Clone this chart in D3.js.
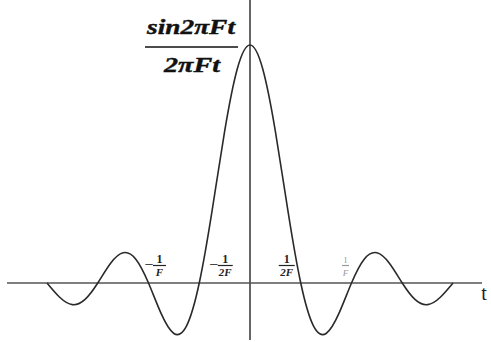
<!DOCTYPE html>
<html>
<head>
<meta charset="utf-8">
<script src="https://cdn.jsdelivr.net/npm/d3@7"></script>
<style>
  html, body { margin: 0; padding: 0; background: #fff; }
  svg { display: block; }
</style>
</head>
<body>
<svg id="chart" width="491" height="342"></svg>
<script>
// Time, in units of 1/(2F), and the curve values
const tValues = [-4, -3.75, -3.5, -3.25, -3, -2.75, -2.5, -2.25, -2, -1.75, -1.5, -1.25, -1,
  -0.75, -0.5, -0.25, 0, 0.25, 0.5, 0.75, 1, 1.25, 1.5, 1.75, 2, 2.25, 2.5, 2.75, 3, 3.25, 3.5, 3.75, 4];
const curveValues = [0, -0.060, -0.091, -0.069, 0, 0.082, 0.127, 0.100, 0, -0.129, -0.212, -0.180, 0,
  0.300, 0.637, 0.900, 1, 0.900, 0.637, 0.300, 0, -0.180, -0.212, -0.129, 0, 0.100, 0.127, 0.082, 0, -0.069, -0.091, -0.060, 0];

// Tick labels on the time axis
const tickAt = [-2, -1, 1, 2];
const tickSign = ["\u2212", "\u2212", "", ""];
const tickNum = ["1", "1", "1", "1"];
const tickDen = ["F", "2F", "2F", "F"];

const titleNum = "sin2\u03C0Ft";
const titleDen = "2\u03C0Ft";
const axisLabel = "t";

const svg = d3.select("#chart");
const x = d3.scaleLinear().domain([-4, 4]).range([47, 453]);
const y = d3.scaleLinear().domain([0, 1]).range([283, 45]);

// axes
svg.append("line").attr("x1", 7).attr("x2", 482).attr("y1", y(0)).attr("y2", y(0))
  .attr("stroke", "#555").attr("stroke-width", 1.6);
svg.append("line").attr("x1", x(0)).attr("x2", x(0)).attr("y1", 0).attr("y2", 340)
  .attr("stroke", "#555").attr("stroke-width", 1.8);

// curve
const pts = tValues.map((t, i) => [t, curveValues[i]]);
const line = d3.line().x(d => x(d[0])).y(d => y(d[1])).curve(d3.curveNatural);
svg.append("path").attr("d", line(pts)).attr("fill", "none")
  .attr("stroke", "#2a2a2a").attr("stroke-width", 1.6);

// axis label
svg.append("text").attr("x", 484).attr("y", 300).attr("text-anchor", "middle")
  .attr("font-family", "Liberation Serif, serif").attr("font-size", 20).attr("fill", "#222")
  .text(axisLabel);

// title fraction
const title = svg.append("g").attr("font-family", "Liberation Serif, serif")
  .attr("font-weight", "bold").attr("font-style", "italic").attr("fill", "#111")
  .attr("stroke", "#111").attr("stroke-width", 0.4);
title.append("text").attr("x", 147).attr("y", 34).attr("font-size", 21)
  .attr("textLength", 88).attr("lengthAdjust", "spacingAndGlyphs").text(titleNum);
title.append("line").attr("x1", 145).attr("x2", 238).attr("y1", 47).attr("y2", 47)
  .attr("stroke", "#111").attr("stroke-width", 1.6);
title.append("text").attr("x", 164).attr("y", 72).attr("font-size", 21)
  .attr("textLength", 56).attr("lengthAdjust", "spacingAndGlyphs").text(titleDen);

// tick labels
const tickDx = [11, 26, -14, -6];
const tickColor = ["#222", "#222", "#222", "#999"];
const tickBarW = [13, 15, 16, 7];
tickAt.forEach((t, i) => {
  const cx = x(t) + tickDx[i];
  const g = svg.append("g").attr("font-family", "Liberation Serif, serif")
    .attr("font-weight", i === 3 ? "normal" : "bold").attr("fill", tickColor[i]);
  const fs = i === 3 ? 9 : 12;
  g.append("text").attr("x", cx).attr("y", 263).attr("text-anchor", "middle")
    .attr("font-size", fs).text(tickNum[i]);
  g.append("line").attr("x1", cx - tickBarW[i] / 2).attr("x2", cx + tickBarW[i] / 2)
    .attr("y1", 265.5).attr("y2", 265.5).attr("stroke", tickColor[i]).attr("stroke-width", 1.2);
  g.append("text").attr("x", cx).attr("y", 276).attr("text-anchor", "middle")
    .attr("font-size", i === 3 ? 9 : 11).attr("font-style", "italic").text(tickDen[i]);
  if (tickSign[i]) {
    g.append("text").attr("x", cx - tickBarW[i] / 2 + 0.5).attr("y", 269.5).attr("text-anchor", "end")
      .attr("font-size", 16).attr("font-weight", "normal").text(tickSign[i]);
  }
});
</script>
</body>
</html>
